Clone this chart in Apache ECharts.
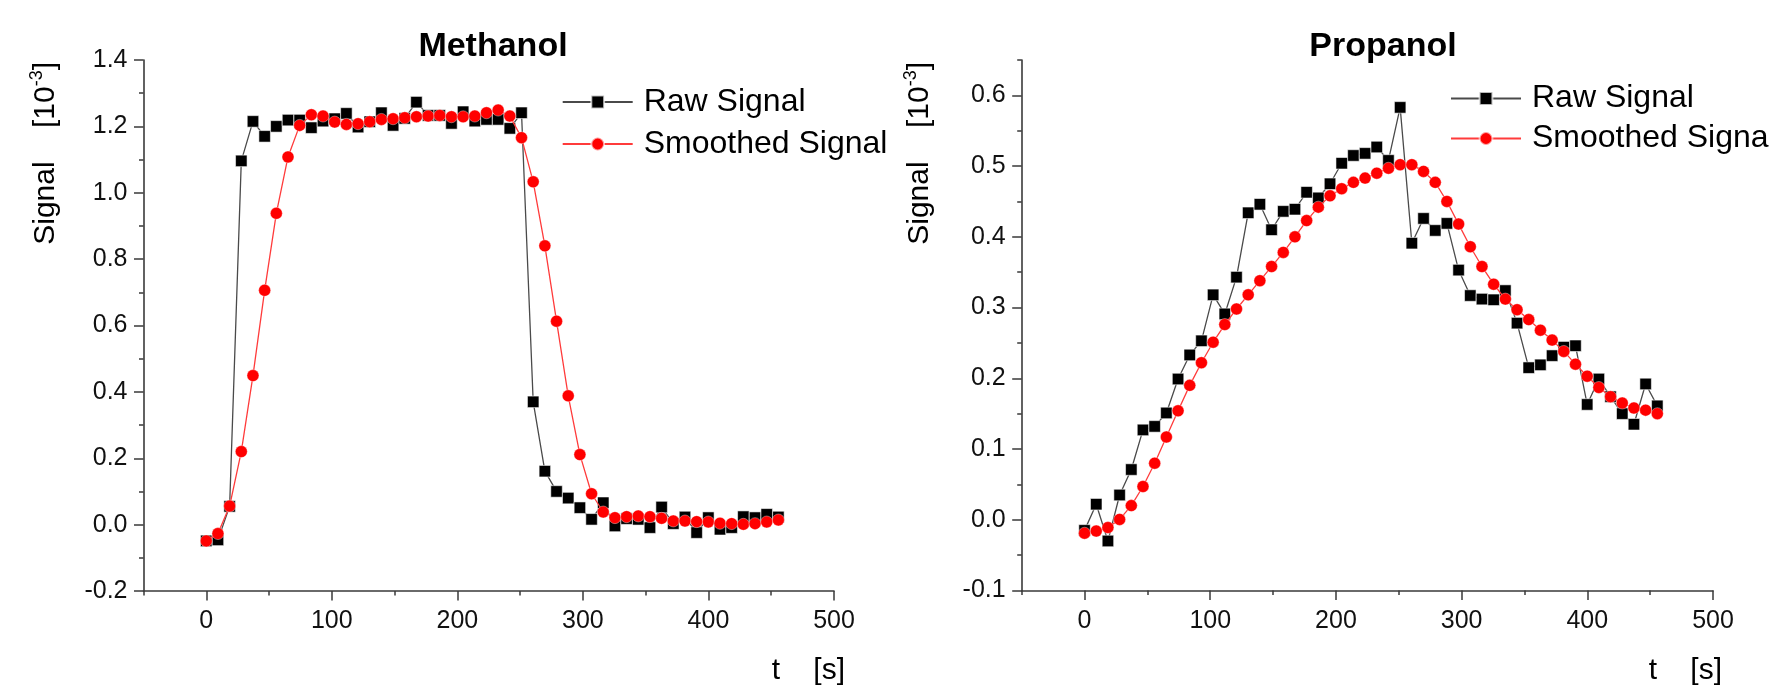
<!DOCTYPE html>
<html>
<head>
<meta charset="utf-8">
<script src="https://cdn.jsdelivr.net/npm/echarts@6/dist/echarts.min.js"></script>
<style>html,body{margin:0;padding:0;background:#fff;}#c{width:1769px;height:691px;}</style>
</head>
<body>
<div id="c"></div>
<script>
// ---- data ----
const time = [0, 9.3, 18.6, 27.9, 37.2, 46.5, 55.8, 65.1, 74.4, 83.7, 93, 102.3, 111.6, 120.9, 130.2, 139.5, 148.8, 158.1, 167.4, 176.7, 186, 195.3, 204.6, 213.9, 223.2, 232.5, 241.8, 251.1, 260.4, 269.7, 279, 288.3, 297.6, 306.9, 316.2, 325.5, 334.8, 344.1, 353.4, 362.7, 372, 381.3, 390.6, 399.9, 409.2, 418.5, 427.8, 437.1, 446.4, 455.7];

const methanolRaw = [-0.049, -0.046, 0.055, 1.096, 1.215, 1.170, 1.200, 1.219, 1.219, 1.196, 1.216, 1.223, 1.239, 1.198, 1.214, 1.241, 1.203, 1.224, 1.273, 1.233, 1.233, 1.209, 1.244, 1.216, 1.221, 1.221, 1.194, 1.241, 0.370, 0.161, 0.100, 0.080, 0.051, 0.016, 0.066, -0.004, 0.018, 0.016, -0.009, 0.053, 0.003, 0.023, -0.024, 0.021, -0.014, -0.009, 0.024, 0.021, 0.031, 0.023];
const methanolSmooth = [-0.049, -0.027, 0.056, 0.220, 0.449, 0.706, 0.938, 1.108, 1.203, 1.235, 1.231, 1.213, 1.206, 1.208, 1.214, 1.221, 1.223, 1.226, 1.229, 1.231, 1.233, 1.229, 1.229, 1.231, 1.241, 1.249, 1.231, 1.166, 1.033, 0.840, 0.613, 0.388, 0.211, 0.093, 0.038, 0.021, 0.024, 0.026, 0.024, 0.019, 0.011, 0.011, 0.009, 0.008, 0.004, 0.003, 0.001, 0.003, 0.008, 0.014];

const propanolRaw = [-0.015, 0.022, -0.030, 0.035, 0.071, 0.127, 0.132, 0.151, 0.199, 0.233, 0.253, 0.318, 0.291, 0.343, 0.434, 0.446, 0.410, 0.436, 0.439, 0.463, 0.455, 0.475, 0.504, 0.515, 0.518, 0.527, 0.508, 0.583, 0.391, 0.426, 0.409, 0.419, 0.353, 0.317, 0.312, 0.311, 0.324, 0.278, 0.215, 0.219, 0.232, 0.244, 0.246, 0.163, 0.199, 0.174, 0.150, 0.135, 0.192, 0.161];
const propanolSmooth = [-0.019, -0.016, -0.011, 0.0005, 0.020, 0.047, 0.080, 0.117, 0.154, 0.190, 0.222, 0.251, 0.276, 0.298, 0.318, 0.338, 0.358, 0.378, 0.400, 0.423, 0.442, 0.458, 0.468, 0.477, 0.483, 0.490, 0.497, 0.502, 0.502, 0.4925, 0.477, 0.450, 0.418, 0.386, 0.358, 0.333, 0.312, 0.297, 0.283, 0.268, 0.254, 0.238, 0.220, 0.203, 0.187, 0.174, 0.165, 0.158, 0.155, 0.150];

const seriesNames = ['Raw Signal', 'Smoothed Signal'];
const chartTitles = ['Methanol', 'Propanol'];

const xTicks = [0, 100, 200, 300, 400, 500];
const xMinorTicks = [-50, 50, 150, 250, 350, 450];
const methYTicks = [-0.2, 0, 0.2, 0.4, 0.6, 0.8, 1.0, 1.2, 1.4];
const methYMinorTicks = [-0.1, 0.1, 0.3, 0.5, 0.7, 0.9, 1.1, 1.3];
const propYTicks = [-0.1, 0, 0.1, 0.2, 0.3, 0.4, 0.5, 0.6];
const propYMinorTicks = [-0.05, 0.05, 0.15, 0.25, 0.35, 0.45, 0.55, 0.65];

// ---- chart ----
const FONT = '"Liberation Sans", Arial, Helvetica, sans-serif';
const AX = '#3a3a3a';
const pairs = (xs, ys) => xs.map((x, i) => [x, ys[i]]);

function mainAxis(kind, pos, gridIndex, min, max, interval, ticks, fmt) {
  return {
    type: 'value', gridIndex, position: pos, min, max, interval,
    axisLine: { show: true, onZero: false, lineStyle: { color: AX, width: 1.6 } },
    axisTick: { show: true, inside: false, length: 9.5, customValues: ticks, lineStyle: { color: AX, width: 1.5 } },
    axisLabel: { show: true, customValues: ticks, formatter: fmt, fontSize: 25, color: '#111', fontFamily: FONT,
                 margin: kind === 'x' ? 18 : 16 },
    splitLine: { show: false }, minorTick: { show: false }
  };
}
function minorAxis(pos, gridIndex, min, max, interval, ticks) {
  return {
    type: 'value', gridIndex, position: pos, min, max, interval,
    axisLine: { show: false, onZero: false },
    axisTick: { show: true, inside: false, length: 4.5, customValues: ticks, lineStyle: { color: AX, width: 1.5 } },
    axisLabel: { show: false }, splitLine: { show: false }
  };
}
const fx = v => String(Math.round(v));
const fy = v => (Math.round(v * 10) / 10).toFixed(1);

function lineSeries(name, xi, yi, data, isRaw) {
  return isRaw ? {
    name, type: 'line', xAxisIndex: xi, yAxisIndex: yi, data,
    symbol: 'rect', symbolSize: 11.5, showSymbol: true,
    lineStyle: { color: '#4a4a4a', width: 1.3 },
    itemStyle: { color: '#000', borderColor: 'rgba(255,255,255,0.7)', borderWidth: 0.8 },
    z: 2, animation: false
  } : {
    name, type: 'line', xAxisIndex: xi, yAxisIndex: yi, data,
    symbol: 'circle', symbolSize: 12, showSymbol: true,
    lineStyle: { color: '#ff3b3b', width: 1.3 },
    itemStyle: { color: '#ff0000', borderColor: 'rgba(255,255,255,0.6)', borderWidth: 0.6 },
    z: 3, animation: false
  };
}

function yName(x) {
  return {
    type: 'text', x: x, y: 62, rotation: Math.PI / 2, silent: true,
    style: {
      text: '{a|Signal    [10}{s|-3}{a|]}',
      align: 'right', verticalAlign: 'middle', fill: '#000',
      rich: {
        a: { fontSize: 30, fontFamily: FONT, lineHeight: 36, fill: '#000' },
        s: { fontSize: 18, fontFamily: FONT, lineHeight: 22, verticalAlign: 'top', fill: '#000' }
      }
    }
  };
}
function xName(x) {
  return {
    type: 'text', x: x, y: 671, silent: true,
    style: {
      text: 't    [s]', align: 'right', verticalAlign: 'middle',
      fontSize: 30, fontFamily: FONT, fill: '#000'
    }
  };
}
function titleText(x, t) {
  return {
    type: 'text', x: x, y: 46.5, silent: true,
    style: { text: t, align: 'center', verticalAlign: 'middle', fontSize: 34, fontWeight: 'bold', fontFamily: FONT, fill: '#000' }
  };
}
function legend(left, top, gap) {
  return {
    data: seriesNames, orient: 'vertical', left, top, padding: 0, itemWidth: 70, itemHeight: 16, itemGap: gap,
    textStyle: { fontSize: 32, lineHeight: 32, color: '#000', fontFamily: FONT, padding: [0, 0, 0, 6] },
    selectedMode: false
  };
}

const chart = echarts.init(document.getElementById('c'), null, { renderer: 'canvas' });
chart.setOption({
  animation: false,
  backgroundColor: '#fff',
  grid: [
    { left: 143.5, top: 60, width: 690.5, height: 531, containLabel: false, outerBoundsMode: 'none' },
    { left: 1021.7, top: 60, width: 691.3, height: 530.5, containLabel: false, outerBoundsMode: 'none' }
  ],
  xAxis: [
    mainAxis('x', 'bottom', 0, -50, 500, 50, xTicks, fx),
    minorAxis('bottom', 0, -50, 500, 50, xMinorTicks),
    mainAxis('x', 'bottom', 1, -50, 500, 50, xTicks, fx),
    minorAxis('bottom', 1, -50, 500, 50, xMinorTicks)
  ],
  yAxis: [
    mainAxis('y', 'left', 0, -0.2, 1.4, 0.2, methYTicks, fy),
    minorAxis('left', 0, -0.2, 1.4, 0.2, methYMinorTicks),
    mainAxis('y', 'left', 1, -0.1, 0.65, 0.05, propYTicks, fy),
    minorAxis('left', 1, -0.1, 0.65, 0.05, propYMinorTicks)
  ],
  legend: [legend(561.7, 86, 10), legend(1450, 82.5, 8)],
  series: [
    lineSeries(seriesNames[0], 0, 0, pairs(time, methanolRaw), true),
    lineSeries(seriesNames[1], 0, 0, pairs(time, methanolSmooth), false),
    lineSeries(seriesNames[0], 2, 2, pairs(time, propanolRaw), true),
    lineSeries(seriesNames[1], 2, 2, pairs(time, propanolSmooth), false)
  ],
  graphic: [
    titleText(493, chartTitles[0]),
    titleText(1383, chartTitles[1]),
    yName(46), yName(920),
    xName(845), xName(1722)
  ]
});
</script>
</body>
</html>
